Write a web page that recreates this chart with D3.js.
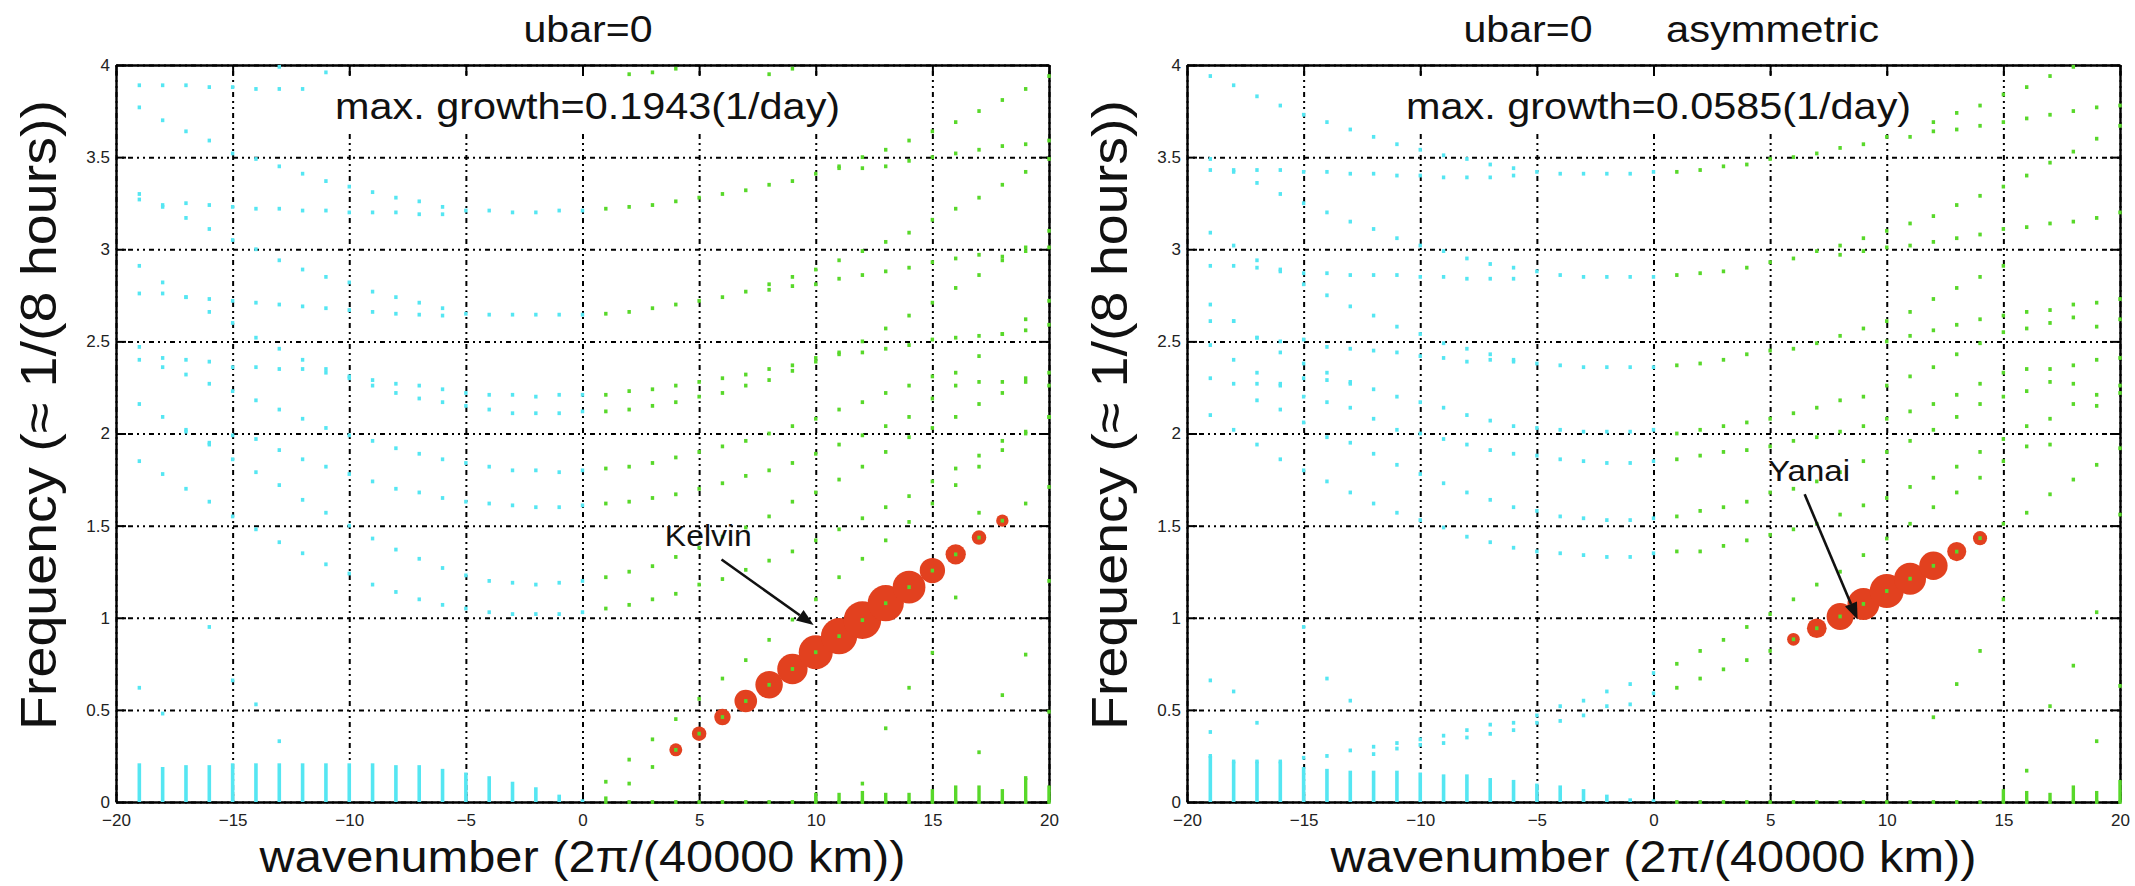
<!DOCTYPE html>
<html><head><meta charset="utf-8">
<script src="https://cdn.jsdelivr.net/npm/d3@7"></script>
<style>body{margin:0;background:#fff;} svg{display:block;font-family:"Liberation Sans",Arial,Helvetica,sans-serif;}</style>
</head><body>
<svg id="chart" width="2135" height="886"></svg>
<script>
// ---------------- DATA ----------------
const xTicks = [-20,-15,-10,-5,0,5,10,15,20];
const yTicks = [0,0.5,1,1.5,2,2.5,3,3.5,4];
const kWest = [-19,-18,-17,-16,-15,-14,-13,-12,-11,-10,-9,-8,-7,-6,-5,-4,-3,-2,-1,0];
const kEast = [1,2,3,4,5,6,7,8,9,10,11,12,13,14,15,16,17,18,19,20];
const N = null;

// Left panel (ubar=0) westward (cyan) branches, one value per kWest
const leftWestBranches = [
 [3.89,3.89,3.89,3.88,3.88,3.87,3.87,3.87,N,N,N,N,N,N,N,N,N,N,N,N],
 [3.77,3.70,3.64,3.59,3.52,3.49,3.45,3.41,3.37,3.34,3.31,3.28,3.26,3.23,3.21,3.21,3.20,3.20,3.21,3.21],
 [3.27,3.24,3.25,3.24,3.23,3.22,3.22,3.21,3.21,3.20,3.20,3.20,3.19,3.19,N,N,N,N,N,N],
 [3.30,3.23,3.17,3.11,3.05,3.00,2.94,2.89,2.85,2.82,2.77,2.74,2.71,2.68,2.65,2.645,2.645,2.645,2.645,2.645],
 [2.76,2.76,2.74,2.73,2.72,2.71,2.70,2.69,2.68,2.67,2.66,2.65,2.645,2.64,N,N,N,N,N,N],
 [2.91,2.82,2.74,2.66,2.60,2.52,2.46,2.40,2.35,2.31,2.29,2.27,2.26,2.24,2.22,2.21,2.21,2.20,2.21,2.21],
 [2.47,2.41,2.40,2.39,2.36,2.36,2.35,2.35,2.33,2.30,2.26,2.22,2.19,2.17,2.15,2.13,2.11,2.11,2.11,2.12],
 [2.40,2.36,2.32,2.27,2.23,2.18,2.13,2.08,2.03,1.99,1.96,1.92,1.89,1.86,1.84,1.82,1.80,1.80,1.79,1.80],
 [2.16,2.09,2.02,1.95,1.99,1.97,1.91,1.86,1.82,1.78,1.74,1.70,1.68,1.65,1.63,1.62,1.61,1.60,1.60,1.61],
 [N,N,2.01,1.94,1.86,1.79,1.72,1.64,1.57,1.50,1.43,1.37,1.32,1.27,1.23,1.20,1.19,1.18,1.19,1.20],
 [1.85,1.78,1.70,1.63,1.55,1.48,1.41,1.35,1.29,1.24,1.18,1.14,1.10,1.07,1.05,1.03,1.02,1.02,1.02,1.03]
];
const leftWestMiscK = [-13,-11,-19,-18,-16,-15,-14,-13];
const leftWestMiscF = [3.99,3.96,0.62,0.48,0.95,0.66,0.53,0.33];
const leftRossbyTop = [0.21,0.19,0.20,0.20,0.21,0.21,0.21,0.21,0.21,0.21,0.21,0.20,0.20,0.18,0.16,0.14,0.11,0.08,0.04,0.015];

// Left panel eastward (green) branches, one value per kEast
const leftEastBranches = [
 [3.22,3.23,3.24,3.26,3.28,3.30,3.32,3.35,3.37,3.41,3.45,3.50,3.54,3.59,3.64,3.69,3.75,3.81,3.87,3.94],
 [N,N,N,N,N,N,N,N,N,N,3.44,3.44,3.45,3.48,3.50,3.52,3.54,3.56,3.57,3.59],
 [2.65,2.66,2.68,2.70,2.72,2.74,2.77,2.81,2.85,2.89,2.94,2.99,3.04,3.09,3.16,3.22,3.28,3.35,3.42,3.49],
 [N,N,N,N,N,N,N,2.78,2.80,2.81,2.84,2.86,2.88,2.90,2.93,2.95,2.97,2.96,2.99,3.01],
 [2.12,2.13,2.15,2.17,2.20,2.22,2.26,2.29,2.34,2.39,2.44,2.50,2.57,2.64,2.71,2.79,2.86,2.94,3.01,3.10],
 [2.21,2.23,2.24,2.26,2.28,2.30,2.32,2.35,2.37,2.41,2.43,2.44,2.46,2.48,2.51,2.52,2.53,2.54,2.56,2.59],
 [1.81,1.82,1.84,1.87,1.90,1.93,1.96,2.00,2.04,2.08,2.13,2.17,2.22,2.26,2.31,2.33,2.42,2.54,2.62,2.72],
 [1.62,1.63,1.65,1.67,1.70,1.73,1.77,1.80,1.84,1.89,1.94,1.99,2.04,2.09,2.19,2.26,2.28,2.28,2.30,2.33],
 [1.22,1.25,1.28,1.33,1.38,1.44,1.49,1.55,1.63,1.68,1.75,1.82,1.90,1.98,2.03,2.09,2.16,2.22,2.28,2.26],
 [1.05,1.07,1.10,1.13,1.18,1.21,1.26,1.31,1.36,1.42,1.48,1.54,1.60,1.66,1.74,1.81,1.88,1.96,2.01,2.09],
 [0.11,0.23,0.34,0.45,0.56,0.67,0.77,0.88,0.99,1.10,1.22,1.32,1.42,1.52,1.62,1.72,1.82,1.91,2.00,2.09],
 [0.02,0.10,0.19,0.283,0.371,0.461,0.548,0.636,0.722,0.813,0.900,0.987,1.079,1.166,1.256,1.344,1.435,1.527,1.62,1.71],
 [0,0,0,0,0,0,0,0,0,0,0,0,0,0,0,0,0,0,0,0]
];
const leftEastMiscK = [12,13,14,15,16,17,17,18,19,19,20,20,2,3,4,8,9];
const leftEastMiscF = [0.10,0.40,0.62,0.81,1.11,0.27,1.57,0.58,0.80,0.13,0.49,1.20,3.95,3.96,3.98,3.95,3.98];
const leftEastBottomTop = [0,0,0,0,0,0,0,0,0,0.05,0.05,0.06,0.05,0.05,0.07,0.09,0.09,0.07,0.13,0.09];

// Kelvin unstable modes (red circles)
const kelvinK = [4,5,6,7,8,9,10,11,12,13,14,15,16,17,18];
const kelvinFreq = [0.283,0.371,0.461,0.548,0.636,0.722,0.813,0.900,0.987,1.079,1.166,1.256,1.344,1.435,1.527];
const kelvinGrowth = [0.067,0.075,0.085,0.117,0.142,0.157,0.176,0.187,0.1943,0.187,0.169,0.131,0.105,0.075,0.064];

// Right panel (ubar=0 asymmetric) westward (cyan) branches
const rightWestBranches = [
 [3.94,3.89,3.83,3.78,3.73,3.69,3.65,3.61,3.57,3.54,3.51,3.49,3.46,3.44,3.42,3.41,3.41,3.41,3.41,3.42],
 [3.43,3.43,3.43,3.43,3.42,3.42,3.41,3.41,3.40,3.40,3.39,3.39,3.39,3.40,N,N,N,N,N,N],
 [3.49,3.42,3.36,3.30,3.25,3.20,3.15,3.11,3.06,3.02,2.99,2.95,2.92,2.90,2.88,2.86,2.85,2.85,2.85,2.85],
 [2.91,2.91,2.90,2.89,2.87,2.87,2.86,2.86,2.86,2.85,2.85,2.84,2.84,2.84,N,N,N,N,N,N],
 [3.09,3.02,2.94,2.88,2.81,2.75,2.69,2.64,2.58,2.54,2.49,2.46,2.43,2.40,2.38,2.37,2.36,2.36,2.36,2.36],
 [2.61,2.61,2.52,2.50,2.51,2.47,2.46,2.45,2.44,2.42,2.41,2.39,2.40,2.39,N,N,N,N,N,N],
 [2.70,2.61,2.52,2.44,2.38,2.33,2.28,2.24,2.20,2.17,2.14,2.10,2.07,2.04,2.03,2.02,2.01,2.01,2.01,2.02],
 [2.30,2.27,2.27,2.27,2.30,2.29,2.27,N,N,N,N,N,N,N,N,N,N,N,N,N],
 [2.48,2.40,2.33,2.26,2.20,2.17,2.14,2.08,2.02,2.00,1.97,1.94,1.91,1.89,1.88,1.86,1.85,1.84,1.84,1.85],
 [N,N,N,N,N,1.98,1.95,1.89,1.83,1.78,1.73,1.68,1.64,1.60,1.58,1.55,1.54,1.53,1.53,1.54],
 [2.10,2.02,1.94,1.86,1.80,1.74,1.68,1.62,1.57,1.53,1.49,1.44,1.41,1.38,1.36,1.35,1.34,1.33,1.33,1.35],
 [0.25,0.22,0.22,0.22,0.24,0.25,0.28,0.30,0.32,0.34,0.36,0.39,0.42,0.43,0.47,0.52,0.55,0.60,0.64,0.70],
 [N,N,N,N,N,N,N,0.26,0.29,0.31,0.32,0.35,0.37,0.39,0.43,0.44,0.47,0.52,0.53,0.59]
];
const rightWestMiscK = [-19,-18,-17,-19,-14,-13,-15,-17,-16,-15];
const rightWestMiscF = [0.66,0.60,0.43,0.38,0.67,0.55,0.95,2.18,2.13,2.06];
const rightRossbyTop = [0.25,0.22,0.22,0.22,0.19,0.18,0.17,0.17,0.17,0.16,0.15,0.15,0.13,0.12,0.10,0.09,0.07,0.04,0.02,0.015];

// Right panel eastward (green) branches
const rightEastBranches = [
 [3.42,3.43,3.45,3.46,3.49,3.50,3.52,3.55,3.57,3.61,3.65,3.69,3.74,3.78,3.84,3.88,3.94,3.99,N,N],
 [N,N,N,N,N,N,N,N,N,N,3.61,3.64,3.65,3.67,3.69,3.71,3.73,3.75,3.77,3.78],
 [2.86,2.87,2.88,2.90,2.93,2.95,2.99,3.02,3.06,3.10,3.14,3.18,3.24,3.29,3.34,3.40,3.47,3.53,3.60,3.67],
 [N,N,N,N,N,N,N,2.97,2.99,3.01,3.02,3.04,3.06,3.08,3.11,3.12,3.14,3.15,3.17,3.20],
 [2.37,2.38,2.40,2.43,2.45,2.46,2.49,2.53,2.57,2.61,2.66,2.73,2.79,2.85,2.91,N,N,N,N,N],
 [N,N,N,N,N,N,N,N,N,2.50,2.53,2.56,2.59,2.62,2.64,2.66,2.67,2.70,2.71,2.73],
 [2.00,2.02,2.04,2.06,2.08,2.11,2.14,2.18,2.20,2.26,2.31,2.36,2.43,2.49,2.55,2.57,2.60,2.63,2.58,2.62],
 [1.86,1.88,1.90,1.91,1.93,1.96,1.98,2.01,2.04,2.08,2.12,2.16,2.21,2.27,2.33,2.35,2.35,2.37,2.40,2.41],
 [1.55,1.58,1.60,1.63,1.68,1.70,1.74,1.79,1.85,1.90,1.96,2.02,2.09,2.16,2.20,2.23,2.28,2.27,2.15,2.22],
 [1.36,1.36,1.39,1.42,1.45,1.48,1.51,1.56,1.61,1.65,1.71,1.76,1.82,1.90,1.97,2.04,2.08,2.16,2.21,2.26],
 [0.75,0.82,0.88,0.95,1.02,1.10,1.18,1.25,1.34,1.43,1.51,1.60,1.68,1.76,1.85,1.93,N,N,N,N],
 [0.62,0.67,0.72,0.77,0.82,0.883,0.943,1.007,1.075,1.145,1.212,1.282,1.359,1.432,1.51,1.57,1.67,1.75,1.83,1.92],
 [0,0,0,0,0,0,0,0,0,0,0,0,0,0,0,0,0,0,0,0]
];
const rightEastMiscK = [12,13,14,15,16,17,18,19,19,20,17,20];
const rightEastMiscF = [0.46,0.64,0.82,1.10,0.17,0.52,0.74,0.33,1.03,0.63,1.94,1.56];
const rightEastBottomTop = [0,0,0,0,0,0,0,0,0,0,0,0,0,0,0.07,0.06,0.05,0.09,0.06,0.12];

// Yanai unstable modes (red circles)
const yanaiK = [6,7,8,9,10,11,12,13,14];
const yanaiFreq = [0.883,0.943,1.007,1.075,1.145,1.212,1.282,1.359,1.432];
const yanaiGrowth = [0.0218,0.0339,0.0464,0.0549,0.0585,0.0549,0.0489,0.0328,0.0243];

// ---------------- DRAWING ----------------
const CYAN = "#55e6f2", GREEN = "#58d82a", RED = "#e2411f";
const svg = d3.select("#chart");
svg.append("rect").attr("width",2135).attr("height",886).attr("fill","#fff");
const Y0 = 65, Y1 = 802;

const panels = [
  {x0:116, x1:1049, west:leftWestBranches, wMiscK:leftWestMiscK, wMiscF:leftWestMiscF, rossby:leftRossbyTop,
   east:leftEastBranches, eMiscK:leftEastMiscK, eMiscF:leftEastMiscF, eBottom:leftEastBottomTop,
   uK:kelvinK, uF:kelvinFreq, uG:kelvinGrowth, rMax:18.8,
   growthText:"max. growth=0.1943(1/day)", label:"Kelvin", labelK:3.53, labelF:1.39, labelLen:87,
   arrow:[[5.96,1.316],[9.91,0.96]]},
  {x0:1187, x1:2120, west:rightWestBranches, wMiscK:rightWestMiscK, wMiscF:rightWestMiscF, rossby:rightRossbyTop,
   east:rightEastBranches, eMiscK:rightEastMiscK, eMiscF:rightEastMiscF, eBottom:rightEastBottomTop,
   uK:yanaiK, uF:yanaiFreq, uG:yanaiGrowth, rMax:17,
   growthText:"max. growth=0.0585(1/day)", label:"Yanai", labelK:4.91, labelF:1.74, labelLen:82,
   arrow:[[6.48,1.67],[8.75,0.99]]}
];

panels.forEach((p, pi) => {
  const x = d3.scaleLinear().domain([-20,20]).range([p.x0,p.x1]);
  const y = d3.scaleLinear().domain([0,4]).range([Y1,Y0]);
  const g = svg.append("g");

  // grid (dotted / dash-dot look)
  const gxg = g.append("g").attr("transform",`translate(0,${Y1})`)
    .call(d3.axisBottom(x).tickValues(xTicks).tickSize(-(Y1-Y0)).tickFormat(""));
  gxg.select(".domain").remove();
  gxg.selectAll("line").attr("stroke","#000").attr("stroke-width",2).attr("stroke-dasharray","2,4,2,4,5,4");
  const gyg = g.append("g").attr("transform",`translate(${p.x0},0)`)
    .call(d3.axisLeft(y).tickValues(yTicks).tickSize(-(p.x1-p.x0)).tickFormat(""));
  gyg.select(".domain").remove();
  gyg.selectAll("line").attr("stroke","#000").attr("stroke-width",2).attr("stroke-dasharray","2,4,2,4,5,4");

  // frame and ticks
  const axB = g.append("g").attr("transform",`translate(0,${Y1})`)
    .call(d3.axisBottom(x).tickValues(xTicks).tickSizeInner(-10).tickSizeOuter(0).tickPadding(12));
  const axT = g.append("g").attr("transform",`translate(0,${Y0})`)
    .call(d3.axisTop(x).tickValues(xTicks).tickSizeInner(-10).tickSizeOuter(0).tickFormat(""));
  const axL = g.append("g").attr("transform",`translate(${p.x0},0)`)
    .call(d3.axisLeft(y).tickValues(yTicks).tickSizeInner(-10).tickSizeOuter(0).tickPadding(6).tickFormat(d=>String(d)));
  const axR = g.append("g").attr("transform",`translate(${p.x1},0)`)
    .call(d3.axisRight(y).tickValues(yTicks).tickSizeInner(-10).tickSizeOuter(0).tickFormat(""));
  [axB,axT,axL,axR].forEach(a=>{
    a.select(".domain").attr("stroke","#000").attr("stroke-width",2.4);
    a.selectAll(".tick line").attr("stroke","#000").attr("stroke-width",2);
    a.selectAll("text").attr("font-size",17).attr("font-family","Liberation Sans, Arial, sans-serif").attr("fill","#222");
  });

  // Rossby (dense) stacks
  g.append("g").selectAll("line").data(kWest.map((k,i)=>({k, t:p.rossby[i]})))
    .enter().append("line")
    .attr("x1",d=>x(d.k)).attr("x2",d=>x(d.k)).attr("y1",y(0)).attr("y2",d=>y(d.t))
    .attr("stroke",CYAN).attr("stroke-width",3.6);
  g.append("g").selectAll("line").data(kEast.map((k,i)=>({k, t:p.eBottom[i]})).filter(d=>d.t>0))
    .enter().append("line")
    .attr("x1",d=>x(d.k)).attr("x2",d=>x(d.k)).attr("y1",y(0)).attr("y2",d=>y(d.t))
    .attr("stroke",GREEN).attr("stroke-width",3.4);

  function dots(ks, arr, color){
    g.append("g").selectAll("rect")
      .data(arr.map((f,i)=>({k:ks[i], f})).filter(d=>d.f!==null))
      .enter().append("rect")
      .attr("x",d=>x(d.k)-1.7).attr("y",d=>y(d.f)-1.9)
      .attr("width",3.4).attr("height",3.8).attr("fill",color);
  }
  p.west.forEach(b=>dots(kWest,b,CYAN));
  dots(p.wMiscK, p.wMiscF, CYAN);

  // unstable modes (red circles, size proportional to growth rate)
  const r = d3.scaleLinear().domain([0, d3.max(p.uG)]).range([0, p.rMax]);
  g.append("g").selectAll("circle").data(p.uK.map((k,i)=>({k,f:p.uF[i],gr:p.uG[i]})))
    .enter().append("circle")
    .attr("cx",d=>x(d.k)).attr("cy",d=>y(d.f)).attr("r",d=>r(d.gr)).attr("fill",RED);

  p.east.forEach(b=>dots(kEast,b,GREEN));
  dots(p.eMiscK, p.eMiscF, GREEN);

  // growth text with white background
  const gt = g.append("text").attr("x",x(0.22)).attr("y",119).attr("text-anchor","middle")
    .attr("font-size",36).attr("fill","#111").attr("textLength",505).attr("lengthAdjust","spacingAndGlyphs")
    .text(p.growthText);
  const bb = gt.node().getBBox();
  g.insert("rect", function(){ return gt.node(); })
    .attr("x",bb.x-4).attr("y",78).attr("width",bb.width+8).attr("height",55).attr("fill","#fff");

  // annotation label + arrow
  g.append("text").attr("x",x(p.labelK)).attr("y",y(p.labelF))
    .attr("font-size",30).attr("fill","#111").attr("textLength",p.labelLen).attr("lengthAdjust","spacingAndGlyphs")
    .text(p.label);
  const [a0,a1] = p.arrow;
  const sx = x(a0[0]), sy = y(a0[1]), ex = x(a1[0]), ey = y(a1[1]);
  const ang = Math.atan2(ey-sy, ex-sx), L = 17, Wd = 6.5;
  const bx = ex - L*Math.cos(ang), by = ey - L*Math.sin(ang);
  g.append("line").attr("x1",sx).attr("y1",sy).attr("x2",bx).attr("y2",by)
    .attr("stroke","#111").attr("stroke-width",2.6);
  g.append("path").attr("d", d3.line()([[ex,ey],[bx - Wd*Math.sin(ang), by + Wd*Math.cos(ang)],[bx + Wd*Math.sin(ang), by - Wd*Math.cos(ang)]]) + "Z")
    .attr("fill","#111");

  // axis labels
  g.append("text").attr("x",(p.x0+p.x1)/2).attr("y",872).attr("text-anchor","middle")
    .attr("font-size",45).attr("fill","#111").attr("textLength",646).attr("lengthAdjust","spacingAndGlyphs")
    .text("wavenumber (2\u03c0/(40000 km))");
  g.append("text").attr("transform",`translate(${p.x0-60},730) rotate(-90)`)
    .attr("font-size",50).attr("fill","#111").attr("textLength",630).attr("lengthAdjust","spacingAndGlyphs")
    .text("Frequency (\u2248 1/(8 hours))");
});

// titles
svg.append("text").attr("x",588).attr("y",42).attr("text-anchor","middle").attr("font-size",36).attr("fill","#111")
  .attr("textLength",129).attr("lengthAdjust","spacingAndGlyphs").text("ubar=0");
svg.append("text").attr("x",1528).attr("y",42).attr("text-anchor","middle").attr("font-size",36).attr("fill","#111")
  .attr("textLength",129).attr("lengthAdjust","spacingAndGlyphs").text("ubar=0");
svg.append("text").attr("x",1666).attr("y",42).attr("font-size",36).attr("fill","#111")
  .attr("textLength",213).attr("lengthAdjust","spacingAndGlyphs").text("asymmetric");
</script>
</body></html>
